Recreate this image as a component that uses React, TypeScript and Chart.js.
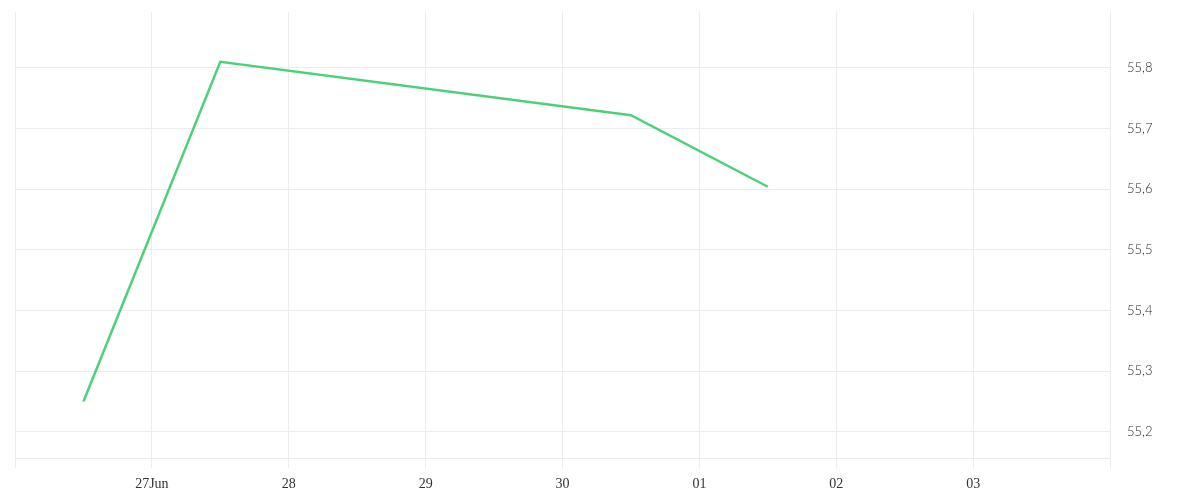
import React, { useEffect, useRef } from "react";
import { Chart, registerables } from "chart.js";

Chart.register(...registerables);

// x: days since 26 Jun 00:00
const xTickValues = [0, 1, 2, 3, 4, 5, 6, 7, 8];
const xTickLabels = ["", "27Jun", "28", "29", "30", "01", "02", "03", ""];
const pointDays = [0.5, 1.5, 4.5, 5.5];
const pointValues = [55.25, 55.81, 55.722, 55.604];
const yTickValues = [55.2, 55.3, 55.4, 55.5, 55.6, 55.7, 55.8];

export default function App() {
  const ref = useRef<HTMLCanvasElement | null>(null);
  useEffect(() => {
    if (!ref.current) return;
    const chart = new Chart(ref.current, {
      type: "line",
      data: {
        datasets: [
          {
            data: pointDays.map((d, i) => ({ x: d, y: pointValues[i] })),
            borderColor: "#4dd07a",
            borderWidth: 2.5,
            pointRadius: 0,
            tension: 0,
            fill: false,
          },
        ],
      },
      options: {
        animation: false,
        responsive: false,
        maintainAspectRatio: false,
        layout: { padding: { top: 12, left: 15, right: 0, bottom: 0 } },
        plugins: { legend: { display: false }, tooltip: { enabled: false } },
        scales: {
          x: {
            type: "linear",
            min: 0,
            max: 8,
            afterBuildTicks: (s: any) => {
              s.ticks = xTickValues.map((v) => ({ value: v }));
            },
            afterFit: (s: any) => {
              s.height = 42;
              s.paddingLeft = 0;
              s.paddingRight = 0;
            },
            ticks: {
              autoSkip: false,
              maxRotation: 0,
              padding: 8,
              color: "#333",
              font: { family: "'Liberation Serif', serif", size: 14 },
              callback: (v: any) => {
                const i = xTickValues.indexOf(Number(v));
                return i >= 0 ? xTickLabels[i] : "";
              },
            },
            grid: { color: "#ececec", lineWidth: 1, tickLength: 10, drawTicks: true },
            border: { color: "#ececec" },
          },
          y: {
            position: "right",
            min: 55.157,
            max: 55.892,
            afterBuildTicks: (s: any) => {
              s.ticks = yTickValues.map((v) => ({ value: v }));
            },
            afterFit: (s: any) => {
              s.width = 90;
              s.paddingTop = 0;
              s.paddingBottom = 0;
            },
            ticks: {
              padding: 17,
              color: "#2a2a2a",
              font: { family: "Lato", size: 13, weight: "300" as any },
              callback: (v: any) => Number(v).toFixed(1).replace(".", ","),
            },
            grid: { color: "#ececec", lineWidth: 1, drawTicks: false },
            border: { color: "#ececec" },
          },
        },
      },
    });
    return () => chart.destroy();
  }, []);
  return (
    <div style={{ position: "absolute", left: 0, top: 0, width: 1200, height: 500 }}>
      <canvas ref={ref} width={1200} height={500} style={{ width: 1200, height: 500 }} />
    </div>
  );
}
